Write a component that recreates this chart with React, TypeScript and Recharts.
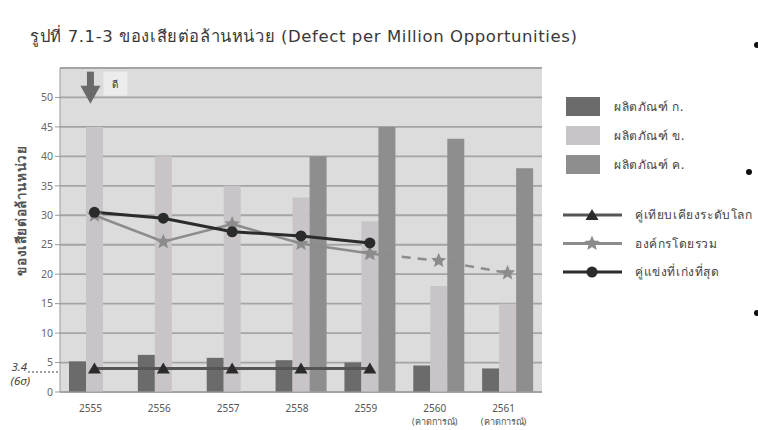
import React from 'react';
import {
  ComposedChart,
  Bar,
  Line,
  XAxis,
  YAxis,
  CartesianGrid,
  ReferenceLine,
  ReferenceDot,
} from 'recharts';

// categories (Buddhist era years)
const years = ['2555', '2556', '2557', '2558', '2559', '2560', '2561'];
const yearNotes = ['', '', '', '', '', '(คาดการณ์)', '(คาดการณ์)'];

// bar series
const productA = [5.2, 6.3, 5.8, 5.4, 5.0, 4.5, 4.0];
const productB = [45, 40, 35, 33, 29, 18, 15];
const productC = [null, null, null, 40, 45, 43, 38];

// line series
const worldClass = [4, 4, 4, 4, 4, null, null];
const overall = [30, 25.5, 28.5, 25.2, 23.5, null, null];
const overallForecast = [null, null, null, null, 23.5, 22.3, 20.2];
const bestRival = [30.5, 29.5, 27.2, 26.5, 25.3, null, null];

const yTicks = [0, 5, 10, 15, 20, 25, 30, 35, 40, 45, 50];
const sixSigma = 3.4;

const barNames = ['ผลิตภัณฑ์ ก.', 'ผลิตภัณฑ์ ข.', 'ผลิตภัณฑ์ ค.'];
const barColors = ['#6b6b6b', '#c8c4c8', '#8e8e8e'];
const lineNames = ['คู่เทียบเคียงระดับโลก', 'องค์กรโดยรวม', 'คู่แข่งที่เก่งที่สุด'];
const lineColors = ['#555555', '#8c8c8c', '#2b2b2b'];
const markerColors = ['#2b2b2b', '#8c8c8c', '#2b2b2b'];

const FONT = '"Noto Sans", "DejaVu Sans", sans-serif';

const data = years.map((y, i) => ({
  year: y,
  note: yearNotes[i],
  a: productA[i],
  b: productB[i],
  c: productC[i],
  world: worldClass[i],
  overall: overall[i],
  forecast: overallForecast[i],
  rival: bestRival[i],
}));

function starPath(cx: number, cy: number, r: number, r2: number) {
  let d = '';
  for (let k = 0; k < 10; k++) {
    const rad = k % 2 === 0 ? r : r2;
    const ang = -Math.PI / 2 + (k * Math.PI) / 5;
    d += (k === 0 ? 'M' : 'L') + (cx + rad * Math.cos(ang)).toFixed(2) + ',' + (cy + rad * Math.sin(ang)).toFixed(2);
  }
  return d + 'Z';
}

const Marker = ({ kind, cx, cy, color }: any) => {
  if (kind === 0) {
    return <polygon points={`${cx},${cy - 6} ${cx - 6.5},${cy + 5} ${cx + 6.5},${cy + 5}`} fill={color} />;
  }
  if (kind === 1) {
    return <path d={starPath(cx, cy, 8, 3.6)} fill={color} />;
  }
  return <circle cx={cx} cy={cy} r={5.5} fill={color} />;
};

const dotFor = (kind: number) => (props: any) => {
  const { cx, cy, index, value } = props;
  if (value == null || cx == null || cy == null) return <g key={`e-${kind}-${index}`} />;
  return <Marker key={`m-${kind}-${index}`} kind={kind} cx={cx} cy={cy} color={markerColors[kind]} />;
};

const YearTick = (props: any) => {
  const { x, y, payload, index } = props;
  const note = yearNotes[index];
  return (
    <g>
      <text x={x - 4} y={y + 12} textAnchor="middle" fontSize={10} fill="#555" fontFamily={FONT}>
        {payload.value}
      </text>
      {note ? (
        <text x={x - 4} y={y + 25} textAnchor="middle" fontSize={9} fill="#555" fontFamily={FONT}>
          {note}
        </text>
      ) : null}
    </g>
  );
};

const SixSigmaLabel = (props: any) => {
  const { viewBox } = props;
  const x = viewBox.x;
  const y = viewBox.y;
  return (
    <g>
      <line x1={x - 32} x2={x} y1={y} y2={y} stroke="#444" strokeDasharray="2 2" strokeWidth={1} />
      <text x={x - 33} y={y - 1} textAnchor="end" fontSize={11.5} fontStyle="italic" fill="#444" fontFamily={FONT}>
        3.4
      </text>
      <text x={x - 30} y={y + 13} textAnchor="end" fontSize={11.5} fontStyle="italic" fill="#444" fontFamily={FONT}>
        (6σ)
      </text>
    </g>
  );
};

const GoodArrow = (props: any) => {
  const { cx, cy } = props;
  const x = cx - 4;
  return (
    <g>
      <rect x={x - 3.5} y={cy - 14} width={7} height={16} fill="#6a6a6a" />
      <polygon points={`${x - 10},${cy} ${x + 10},${cy} ${x},${cy + 18}`} fill="#6a6a6a" />
      <rect x={x + 13} y={cy - 14} width={24} height={24} fill="#ececec" />
      <text x={x + 25} y={cy + 2} textAnchor="middle" fontSize={10} fill="#333" fontFamily={FONT}>
        ดี
      </text>
    </g>
  );
};

const LegendBox = () => (
  <svg width={198} height={195} style={{ position: 'absolute', left: 560, top: 90, overflow: 'visible' }}>
    {barNames.map((n, i) => (
      <g key={n}>
        <rect x={6} y={7 + i * 29} width={34} height={19} fill={barColors[i]} />
        <text x={54} y={21 + i * 29} fontSize={12} letterSpacing={0.6} fill="#444" fontFamily={FONT}>
          {n}
        </text>
      </g>
    ))}
    {lineNames.map((n, i) => {
      const y = 125 + i * 28.5;
      return (
        <g key={n}>
          <line x1={3} x2={62} y1={y} y2={y} stroke={lineColors[i]} strokeWidth={3} />
          <Marker kind={i} cx={32} cy={y} color={markerColors[i]} />
          <text x={75} y={y + 4} fontSize={12} letterSpacing={0.6} fill="#444" fontFamily={FONT}>
            {n}
          </text>
        </g>
      );
    })}
  </svg>
);

export default function App() {
  return (
    <div style={{ position: 'absolute', left: 0, top: 0, width: 758, height: 430, background: '#fff', fontFamily: FONT }}>
      <div
        style={{
          position: 'absolute',
          left: 30,
          top: 23,
          fontSize: 16.5,
          letterSpacing: 0.6,
          color: '#383838',
          whiteSpace: 'nowrap',
          fontFamily: '"DejaVu Sans", "Noto Sans", sans-serif',
        }}
      >
        รูปที่ 7.1-3 ของเสียต่อล้านหน่วย (Defect per Million Opportunities)
      </div>
      {[45, 172, 313].map((t, i) => (
        <div
          key={t}
          style={{ position: 'absolute', left: i === 1 ? 746 : 754, top: t - 3, width: 6, height: 6, borderRadius: 3, background: '#111' }}
        />
      ))}
      <ComposedChart
        width={758}
        height={430}
        data={data}
        margin={{ top: 68, right: 216, bottom: 8, left: 10 }}
        barGap={0}
        style={{ position: 'absolute', left: 0, top: 0 }}
      >
        <CartesianGrid vertical={false} fill="#dcdcdc" stroke="#a4a4a4" strokeWidth={1.8} />
        <XAxis
          dataKey="year"
          tick={<YearTick />}
          tickLine={false}
          axisLine={{ stroke: '#a4a4a4' }}
          height={30}
          interval={0}
        />
        <YAxis
          domain={[0, 55]}
          ticks={yTicks}
          width={50}
          tick={{ fontSize: 10.5, fill: '#666', fontFamily: FONT }}
          tickLine={{ stroke: '#999' }}
          tickSize={5}
          axisLine={{ stroke: '#999' }}
          label={(p: any) => {
            const vb = p.viewBox;
            const x = 21;
            const y = vb.y + vb.height * 0.44;
            return (
              <text
                x={x}
                y={y}
                transform={`rotate(-90 ${x} ${y})`}
                textAnchor="middle"
                dominantBaseline="central"
                fontSize={13.5}
                letterSpacing={0.6}
                fontWeight="bold"
                fill="#555"
                fontFamily={FONT}
              >
                ของเสียต่อล้านหน่วย
              </text>
            );
          }}
        />
        <ReferenceLine y={55} stroke="#a4a4a4" strokeWidth={1.8} />
        <Bar dataKey="a" name={barNames[0]} fill={barColors[0]} barSize={17} isAnimationActive={false} />
        <Bar dataKey="b" name={barNames[1]} fill={barColors[1]} barSize={17} isAnimationActive={false} />
        <Bar dataKey="c" name={barNames[2]} fill={barColors[2]} barSize={17} isAnimationActive={false} />
        <Line dataKey="world" name={lineNames[0]} stroke={lineColors[0]} strokeWidth={3} dot={dotFor(0)} activeDot={false} isAnimationActive={false} />
        <Line dataKey="overall" name={lineNames[1]} stroke={lineColors[1]} strokeWidth={2.5} dot={dotFor(1)} activeDot={false} isAnimationActive={false} />
        <Line
          dataKey="forecast"
          name={lineNames[1]}
          stroke={lineColors[1]}
          strokeWidth={2.5}
          strokeDasharray="9 7"
          dot={dotFor(1)}
          activeDot={false}
          legendType="none"
          isAnimationActive={false}
        />
        <Line dataKey="rival" name={lineNames[2]} stroke={lineColors[2]} strokeWidth={3} dot={dotFor(2)} activeDot={false} isAnimationActive={false} />
        <ReferenceLine y={sixSigma} stroke="none" label={(p: any) => <SixSigmaLabel {...p} />} />
        <ReferenceDot x="2555" y={52} r={0} shape={(p: any) => <GoodArrow {...p} />} />
      </ComposedChart>
      <LegendBox />
    </div>
  );
}
